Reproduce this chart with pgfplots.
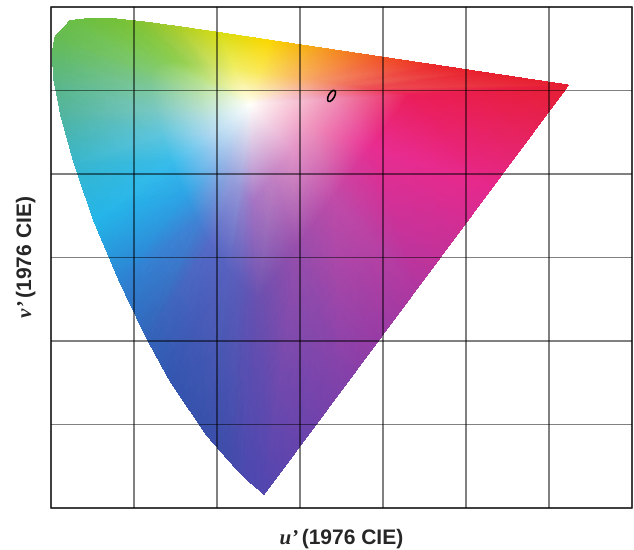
\documentclass[border=0pt]{standalone}
\usepackage{fontspec}
\setmainfont{Liberation Sans}
\newfontfamily\serifbi{Liberation Serif}
\usepackage{pgfplots}
\usepackage{pgfplotstable}
\pgfplotsset{compat=1.18}

% vertices: 0-27 spectral locus + line of purples, 28-55 mid ring,
% 56 white point, 57-84 inner ring
\pgfplotstableread{
x y c
0.2568 0.0166 rgb255=80,70,175
0.2347 0.0350 rgb255=75,72,175
0.2161 0.0549 rgb255=65,75,170
0.1877 0.0871 rgb255=55,80,170
0.1441 0.1510 rgb255=50,85,175
0.1147 0.2044 rgb255=50,100,185
0.0828 0.2708 rgb255=45,130,210
0.0521 0.3427 rgb255=35,180,232
0.0282 0.4117 rgb255=55,182,205
0.0119 0.4698 rgb255=80,180,160
0.0035 0.5131 rgb255=90,182,130
0.0014 0.5432 rgb255=95,185,100
0.0046 0.5638 rgb255=100,187,80
0.0231 0.5837 rgb255=105,190,70
0.0501 0.5868 rgb255=110,190,60
0.0792 0.5856 rgb255=115,192,55
0.1127 0.5821 rgb255=135,195,50
0.1531 0.5766 rgb255=170,205,40
0.2026 0.5694 rgb255=215,220,20
0.2623 0.5604 rgb255=250,215,0
0.3315 0.5501 rgb255=245,150,30
0.4035 0.5393 rgb255=240,80,35
0.4692 0.5296 rgb255=235,35,40
0.5203 0.5219 rgb255=232,30,45
0.6234 0.5065 rgb255=230,30,50
0.5317 0.3840 rgb255=230,40,140
0.4401 0.2616 rgb255=175,55,160
0.3485 0.1391 rgb255=125,65,170
0.2484 0.2498 rgb255=105,80,175
0.2374 0.2590 rgb255=98,84,180
0.2281 0.2690 rgb255=92,90,185
0.2139 0.2851 rgb255=88,96,190
0.1921 0.3170 rgb255=85,105,198
0.1774 0.3437 rgb255=65,130,212
0.1614 0.3769 rgb255=45,165,230
0.1461 0.4129 rgb255=55,188,235
0.1341 0.4474 rgb255=95,198,222
0.1260 0.4764 rgb255=120,200,195
0.1218 0.4981 rgb255=125,200,165
0.1207 0.5131 rgb255=125,200,140
0.1223 0.5234 rgb255=128,202,115
0.1316 0.5334 rgb255=132,203,95
0.1451 0.5349 rgb255=138,205,85
0.1596 0.5343 rgb255=148,208,80
0.1764 0.5326 rgb255=170,213,90
0.1966 0.5298 rgb255=205,225,100
0.2213 0.5262 rgb255=240,238,100
0.2512 0.5217 rgb255=250,232,90
0.2858 0.5166 rgb255=250,195,100
0.3218 0.5112 rgb255=245,155,105
0.3546 0.5063 rgb255=240,115,95
0.3802 0.5025 rgb255=238,80,85
0.4317 0.4948 rgb255=235,30,90
0.3859 0.4335 rgb255=232,45,145
0.3401 0.3723 rgb255=192,75,168
0.2943 0.3111 rgb255=150,78,172
0.2400 0.4830 rgb255=255,255,250
0.2442 0.3664 rgb255=165,115,195
0.2387 0.3710 rgb255=160,122,200
0.2340 0.3760 rgb255=155,132,205
0.2269 0.3840 rgb255=150,150,215
0.2160 0.4000 rgb255=150,165,222
0.2087 0.4133 rgb255=150,180,230
0.2007 0.4300 rgb255=160,200,238
0.1930 0.4479 rgb255=175,215,240
0.1871 0.4652 rgb255=180,222,228
0.1830 0.4797 rgb255=185,225,205
0.1809 0.4905 rgb255=185,225,185
0.1804 0.4981 rgb255=185,225,170
0.1812 0.5032 rgb255=185,225,160
0.1858 0.5082 rgb255=190,228,150
0.1925 0.5090 rgb255=200,230,145
0.1998 0.5087 rgb255=210,232,140
0.2082 0.5078 rgb255=225,238,150
0.2183 0.5064 rgb255=240,242,160
0.2307 0.5046 rgb255=250,245,175
0.2456 0.5024 rgb255=252,240,170
0.2629 0.4998 rgb255=250,225,175
0.2809 0.4971 rgb255=248,205,185
0.2973 0.4947 rgb255=245,185,190
0.3101 0.4927 rgb255=242,170,190
0.3359 0.4889 rgb255=240,150,185
0.3129 0.4583 rgb255=240,150,190
0.2900 0.4277 rgb255=225,150,200
0.2671 0.3970 rgb255=195,130,195
}\vertices

\begin{document}
\begin{tikzpicture}
\begin{axis}[
  scale only axis,
  width=581bp, height=501bp,
  xmin=0, xmax=0.7, ymin=0, ymax=0.6,
  xtick={0,0.1,0.2,0.3,0.4,0.5,0.6,0.7},
  ytick={0,0.1,0.2,0.3,0.4,0.5,0.6},
  xticklabels={}, yticklabels={},
  major tick length=0pt,
  grid=major,
  grid style={color=black!50, blend mode=multiply, line width=1.2bp},
  axis line style={color=black!50, blend mode=multiply, line width=1.2bp},
  axis on top,
  xlabel={{\serifbi\bfseries\itshape u’}\,(1976 CIE)},
  ylabel={{\serifbi\bfseries\itshape v’}\,(1976 CIE)},
  xlabel style={at={(axis description cs:0.5,-0.0719)}, anchor=base,
    font=\fontsize{21bp}{24bp}\selectfont\bfseries, text=black!85},
  ylabel style={at={(axis description cs:-0.034,0.5)}, anchor=base,
    font=\fontsize{21bp}{24bp}\selectfont\bfseries, text=black!85},
]
\addplot[patch, patch type=triangle, shader=interp,
  mesh/color input=explicit, /pgfplots/table/row sep=\\,
  patch table={
56 57 58\\ 57 28 29\\ 57 29 58\\ 28 0 1\\ 28 1 29\\
56 58 59\\ 58 29 30\\ 58 30 59\\ 29 1 2\\ 29 2 30\\
56 59 60\\ 59 30 31\\ 59 31 60\\ 30 2 3\\ 30 3 31\\
56 60 61\\ 60 31 32\\ 60 32 61\\ 31 3 4\\ 31 4 32\\
56 61 62\\ 61 32 33\\ 61 33 62\\ 32 4 5\\ 32 5 33\\
56 62 63\\ 62 33 34\\ 62 34 63\\ 33 5 6\\ 33 6 34\\
56 63 64\\ 63 34 35\\ 63 35 64\\ 34 6 7\\ 34 7 35\\
56 64 65\\ 64 35 36\\ 64 36 65\\ 35 7 8\\ 35 8 36\\
56 65 66\\ 65 36 37\\ 65 37 66\\ 36 8 9\\ 36 9 37\\
56 66 67\\ 66 37 38\\ 66 38 67\\ 37 9 10\\ 37 10 38\\
56 67 68\\ 67 38 39\\ 67 39 68\\ 38 10 11\\ 38 11 39\\
56 68 69\\ 68 39 40\\ 68 40 69\\ 39 11 12\\ 39 12 40\\
56 69 70\\ 69 40 41\\ 69 41 70\\ 40 12 13\\ 40 13 41\\
56 70 71\\ 70 41 42\\ 70 42 71\\ 41 13 14\\ 41 14 42\\
56 71 72\\ 71 42 43\\ 71 43 72\\ 42 14 15\\ 42 15 43\\
56 72 73\\ 72 43 44\\ 72 44 73\\ 43 15 16\\ 43 16 44\\
56 73 74\\ 73 44 45\\ 73 45 74\\ 44 16 17\\ 44 17 45\\
56 74 75\\ 74 45 46\\ 74 46 75\\ 45 17 18\\ 45 18 46\\
56 75 76\\ 75 46 47\\ 75 47 76\\ 46 18 19\\ 46 19 47\\
56 76 77\\ 76 47 48\\ 76 48 77\\ 47 19 20\\ 47 20 48\\
56 77 78\\ 77 48 49\\ 77 49 78\\ 48 20 21\\ 48 21 49\\
56 78 79\\ 78 49 50\\ 78 50 79\\ 49 21 22\\ 49 22 50\\
56 79 80\\ 79 50 51\\ 79 51 80\\ 50 22 23\\ 50 23 51\\
56 80 81\\ 80 51 52\\ 80 52 81\\ 51 23 24\\ 51 24 52\\
56 81 82\\ 81 52 53\\ 81 53 82\\ 52 24 25\\ 52 25 53\\
56 82 83\\ 82 53 54\\ 82 54 83\\ 53 25 26\\ 53 26 54\\
56 83 84\\ 83 54 55\\ 83 55 84\\ 54 26 27\\ 54 27 55\\
56 84 57\\ 84 55 28\\ 84 28 57\\ 55 27 0\\ 55 0 28\\
}]
  table[x=x, y=y, meta=c] {\vertices};
\addplot[black, line width=1.6bp] coordinates {
(0.34175,0.49999) (0.33973,0.50000) (0.33725,0.49826) (0.33497,0.49525)
(0.33350,0.49177) (0.33324,0.48875) (0.33425,0.48701) (0.33627,0.48700)
(0.33875,0.48874) (0.34103,0.49175) (0.34250,0.49523) (0.34276,0.49825)
(0.34175,0.49999)};
\end{axis}
\pgfresetboundingbox
\useasboundingbox (-51bp,-42bp) rectangle (583bp,508bp);
\end{tikzpicture}
\end{document}
